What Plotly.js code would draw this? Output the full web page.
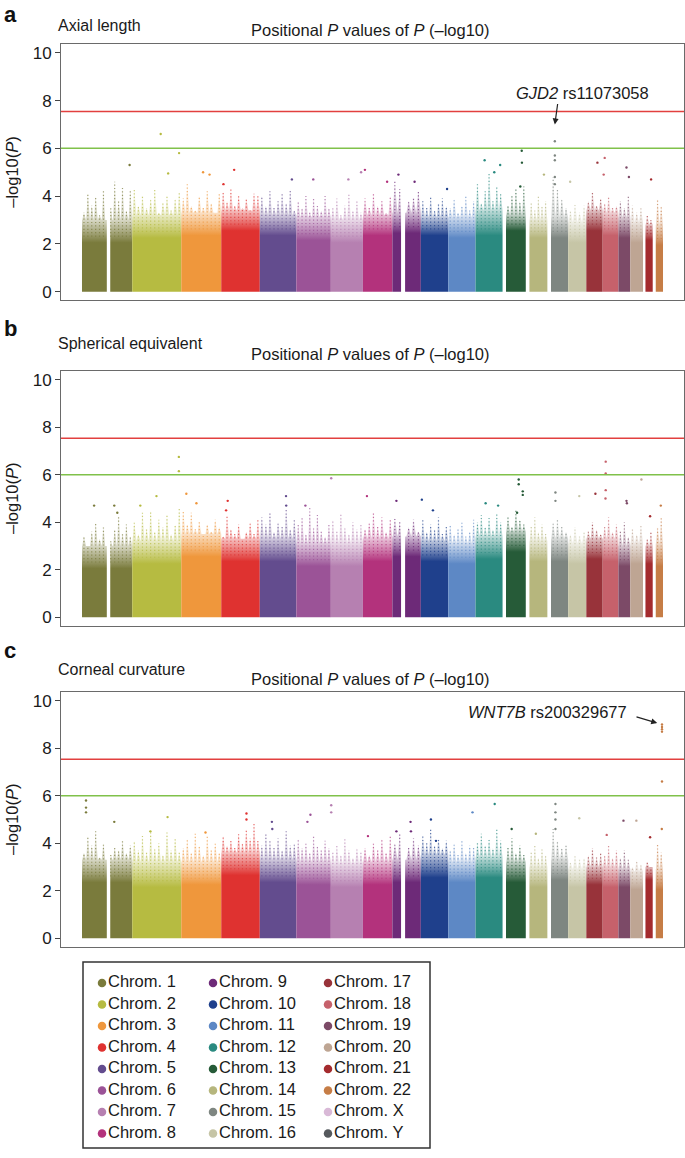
<!DOCTYPE html>
<html>
<head>
<meta charset="utf-8">
<script src="https://cdn.plot.ly/plotly-3.0.1.min.js"></script>
<style>
  html, body { margin: 0; padding: 0; background: #fff; }
  #plot { width: 685px; height: 1158px; }
</style>
</head>
<body>
<div id="plot"></div>
<script>
// chromosome layout (Mb)
const chromNames = ['1','2','3','4','5','6','7','8','9','10','11','12','13','14','15','16','17','18','19','20','21','22'];
const chromLenMb = [249,243,198,191,181,171,159,146,141,136,135,134,115,107,103,90,81,78,59,63,48,51];
const chromGapMb = [[123,140],null,null,null,null,null,null,null,[43,63],null,null,null,[0,17],[0,18],[0,18],null,null,null,null,null,[0,12],[0,15]];
const chromColors = ['#7a7b3c','#b6bb41','#ef973c','#df3230','#634c8e','#9b5397','#b680b1','#b3327c','#6d2a78','#1f408c','#5d88c5','#2a8a80','#265b38','#b6b67d','#7e8681','#c6c5a6','#98333a','#c6616b','#7c4a67','#bea593','#a42b2e','#c67d46'];

const legendNames = ['Chrom. 1','Chrom. 2','Chrom. 3','Chrom. 4','Chrom. 5','Chrom. 6','Chrom. 7','Chrom. 8',
  'Chrom. 9','Chrom. 10','Chrom. 11','Chrom. 12','Chrom. 13','Chrom. 14','Chrom. 15','Chrom. 16',
  'Chrom. 17','Chrom. 18','Chrom. 19','Chrom. 20','Chrom. 21','Chrom. 22','Chrom. X','Chrom. Y'];
const legendColors = chromColors.concat(['#d9b9d7','#55595d']);

const genomeWideLine = 7.54;
const suggestiveLine = 6;

// a: axial length
const axialSolid = [2.3,2.5,2.6,2.8,2.6,2.4,2.3,2.6,2.7,2.6,2.5,2.6,2.8,2.5,2.5,2.3,2.8,2.6,2.5,2.3,2.4,2.2];
const axialHaze = [3.0,3.2,3.3,3.4,3.2,3.1,3.0,3.2,3.3,3.1,3.1,3.4,3.2,3.0,3.1,2.9,3.4,3.3,3.1,2.9,2.8,2.8];
const axialSpikes = [
  [3.3,4.1,3.6,4.0,3.2,4.2,3.5,4.6,3.8,4.4,3.4,4.3],
  [4.3,3.6,4.0,3.5,3.9,4.3,3.3,3.7,4.0,3.4,3.9,4.2],
  [3.9,4.5,3.6,3.4,4.0,3.5,4.2,3.7,3.3,4.1],
  [4.2,3.8,4.3,3.6,4.0,3.5,3.9,3.4,4.1,4.0],
  [4.0,3.6,4.2,3.5,3.8,4.1,3.7,4.3,3.4],
  [3.8,3.5,4.0,3.3,3.9,3.6,3.4,4.0,3.5],
  [3.5,3.9,3.2,3.6,4.1,3.4,3.8,3.3],
  [3.9,3.5,4.1,3.6,3.8,3.3,4.0],
  [4.6,4.3,3.8,3.9,4.2],
  [3.8,3.5,4.0,3.4,3.7,3.9,3.6],
  [3.5,3.9,3.3,3.6,4.0,3.4,3.8],
  [4.5,3.7,4.2,5.0,3.8,4.4,4.1],
  [3.6,4.0,4.3,3.8,4.4],
  [3.7,3.4,4.0,3.6,3.8],
  [4.8,4.3,3.9,3.5],
  [3.4,3.7,3.3,3.6],
  [3.8,4.2,3.6,3.9],
  [3.7,4.0,3.5,3.6],
  [3.8,3.5,4.0],
  [3.6,3.3,3.5],
  [3.2,3.0],
  [3.9,3.6]
];
// [chromosome, position Mb, -log10 P]
const axialHits = [
  [1,236,5.3],[2,141,6.6],[2,178,4.95],[2,232,5.8],[3,108,5.0],[3,140,4.9],[4,11,4.5],[4,64,5.1],
  [5,159,4.7],[6,84,4.7],[7,87,4.7],[7,150,5.0],[8,10,5.1],[8,120,4.6],[9,30,4.9],[9,110,4.6],
  [10,130,4.3],[12,45,5.5],[12,93,5.0],[12,122,5.3],[13,95,5.9],[13,96,5.4],[13,88,4.4],[14,90,4.9],
  [15,37,6.3],[15,37,5.7],[15,37,5.5],[15,37,4.8],[15,37,4.5],[16,10,4.6],[17,55,5.4],
  [18,10,5.6],[18,5,4.9],[19,40,5.2],[19,52,4.8],[21,40,4.7]
];

// b: spherical equivalent
const spherSolid = [2.3,2.5,2.8,2.6,2.6,2.4,2.4,2.6,2.8,2.6,2.5,2.7,3.0,2.6,2.6,2.5,2.7,2.6,2.4,2.5,2.5,2.4];
const spherHaze = [3.0,3.2,3.5,3.3,3.3,3.1,3.1,3.3,3.4,3.2,3.1,3.4,3.6,3.2,3.3,3.1,3.3,3.3,3.0,3.1,3.0,3.1];
const spherSpikes = [
  [3.4,3.0,3.6,4.0,3.3,3.8,3.2,3.7,4.3,3.5,3.9,3.4],
  [4.0,3.5,4.4,3.7,4.5,3.6,4.1,3.8,4.3,3.5,3.9,4.6],
  [4.5,3.9,4.4,3.7,4.0,3.5,3.9,3.6,4.1,3.8],
  [3.4,4.3,3.7,3.5,3.9,3.3,3.6,4.0,3.5,4.1],
  [4.2,3.9,4.4,3.6,4.0,3.8,4.6,3.7,4.1],
  [3.9,4.2,3.5,4.6,3.8,4.3,3.6,3.4,3.9],
  [4.1,3.6,4.4,3.8,3.5,4.0,3.7,3.9],
  [3.7,4.0,4.4,3.8,4.2,3.6,4.1],
  [4.2,4.0,3.8,4.1,3.6],
  [4.1,3.6,3.9,3.7,4.2,3.5,3.8],
  [3.9,3.5,3.7,4.0,3.4,3.6,4.1],
  [4.0,4.3,3.8,4.2,3.7,4.4,4.0],
  [4.2,3.8,4.5,4.1,3.9],
  [3.8,4.2,3.6,3.9,3.5],
  [4.0,4.1,3.8,3.6],
  [3.5,3.8,3.4,3.6],
  [3.6,4.0,3.7,3.5],
  [3.8,4.2,3.6,3.9],
  [3.6,4.0,3.4],
  [3.7,3.5,3.9],
  [3.3,3.6],
  [3.8,4.2]
];
const spherHits = [
  [1,60,4.7],[1,160,4.7],[1,175,4.4],[2,40,4.7],[2,120,5.1],[2,231,6.75],[2,231,6.15],[3,25,5.2],[3,75,4.8],
  [4,32,4.9],[4,24,4.5],[5,130,5.1],[5,131,4.7],[6,45,4.7],[7,2,5.85],[8,20,5.1],[9,20,4.9],[10,5,4.95],
  [10,60,4.5],[12,50,4.8],[12,112,4.7],[13,80,5.8],[13,80,5.6],[13,100,5.3],[13,100,5.15],[13,72,4.4],
  [15,40,5.25],[15,40,4.9],[16,55,5.1],[17,45,5.2],[18,15,6.55],[18,15,6.05],[18,15,5.35],[18,14,5.0],
  [19,40,4.9],[19,42,4.8],[20,55,5.8],[21,35,4.25],[22,40,4.7]
];

// c: corneal curvature
const cornSolid = [2.6,2.4,2.5,2.9,2.6,2.5,2.4,2.5,2.6,2.8,2.6,2.8,2.6,2.4,2.7,2.4,2.5,2.4,2.4,2.3,2.7,2.3];
const cornHaze = [3.3,3.2,3.2,3.6,3.3,3.2,3.1,3.2,3.3,3.5,3.2,3.4,3.2,3.0,3.3,2.9,3.0,3.0,2.9,2.8,3.0,2.9];
const cornSpikes = [
  [3.6,4.3,3.9,4.5,3.4,4.0,3.5,3.8,3.7,4.1,3.6,3.9],
  [4.1,3.7,4.3,3.6,4.5,3.8,4.0,3.5,4.5,3.7,4.2,3.6],
  [3.8,4.2,3.6,4.4,3.9,3.5,4.3,3.7,4.0,3.6],
  [4.3,3.9,4.1,3.8,4.4,4.0,4.6,4.2,4.9,4.1],
  [3.9,4.4,4.1,3.8,4.2,3.7,4.5,3.9,4.0],
  [4.2,3.8,4.0,3.6,4.3,3.9,3.7,4.1,3.8],
  [3.6,3.9,3.5,4.2,3.7,3.4,3.8,3.6],
  [3.8,3.5,4.0,3.7,4.2,3.6,4.3],
  [4.0,4.4,3.8,4.2,3.9],
  [4.3,4.0,4.6,3.9,4.2,3.8,4.1],
  [3.7,4.0,3.5,4.1,3.6,3.9,3.8],
  [4.0,4.4,3.9,4.2,3.8,4.6,4.1],
  [3.8,4.2,3.6,3.9,3.5],
  [3.6,3.9,3.4,3.8,3.5],
  [4.6,4.1,3.8,3.9],
  [3.2,3.5,3.3,3.4],
  [3.5,3.8,3.4,3.6],
  [3.5,3.9,3.4,3.7],
  [3.4,3.7,3.3],
  [3.0,3.3,3.1],
  [3.2,3.0],
  [4.0,3.6]
];
const cornHits = [
  [1,20,5.8],[1,20,5.5],[1,20,5.3],[1,160,4.9],[2,175,5.1],[2,90,4.5],[3,120,4.45],[4,125,5.25],[4,125,5.0],
  [5,60,4.9],[5,62,4.6],[6,70,5.2],[6,55,4.9],[7,2,5.6],[7,2,5.3],[8,25,4.3],[9,20,4.5],[9,90,4.9],[9,92,4.5],
  [10,50,5.0],[10,75,4.1],[11,120,5.3],[12,95,5.65],[13,45,4.6],[14,50,4.4],[15,40,5.65],[15,40,5.3],
  [15,40,5.0],[15,40,4.6],[16,55,5.05],[18,20,4.35],[19,25,4.95],[20,30,4.95],[21,35,4.25],
  [22,46,9.0],[22,46,8.9],[22,46,8.8],[22,46,8.7],[22,46,6.6],[22,45,4.6]
];

const W = 685, H = 1158;
const px = x => x / W;
const py = y => 1 - y / H;
const FONT = 'Liberation Sans, Arial, Helvetica, sans-serif';

const offsets = [];
chromLenMb.reduce((acc, len, i) => { offsets[i] = acc; return acc + len; }, 0);
const genomeLen = chromLenMb.reduce((a, b) => a + b, 0);

function rgba(hex, a) {
  const n = parseInt(hex.slice(1), 16);
  return 'rgba(' + (n >> 16) + ',' + ((n >> 8) & 255) + ',' + (n & 255) + ',' + a + ')';
}

function segments(i) {
  const len = chromLenMb[i], gap = chromGapMb[i];
  if (!gap) return [[0, len]];
  if (gap[0] === 0) return [[gap[1], len]];
  return [[0, gap[0]], [gap[1], len]];
}

// spread n columns evenly over the covered part of a chromosome, return [segIndex, pos]
function spikePositions(i, n) {
  const segs = segments(i);
  const covered = segs.reduce((a, s) => a + s[1] - s[0], 0);
  const out = [];
  for (let k = 0; k < n; k++) {
    let d = (k + 0.5) / n * covered;
    for (let j = 0; j < segs.length; j++) {
      const l = segs[j][1] - segs[j][0];
      if (d <= l) { out.push([j, segs[j][0] + d]); break; }
      d -= l;
    }
  }
  return { pos: out, step: covered / n };
}

const traces = [];
function addPanel(n, solid, haze, spikes, hits) {
  const xa = n === 1 ? 'x' : 'x' + n, ya = n === 1 ? 'y' : 'y' + n;
  chromNames.forEach((c, i) => {
    const segs = segments(i);
    const col = chromColors[i];
    const sp = spikePositions(i, spikes[i].length);
    const top = Math.max(...spikes[i]);
    const dw = sp.step * 0.45;
    segs.forEach((s, j) => {
      const xs = [offsets[i] + s[0]], ys = [haze[i]];
      sp.pos.forEach(([sj, p], k) => {
        if (sj !== j) return;
        const l = Math.max(s[0], p - dw), r = Math.min(s[1], p + dw);
        xs.push(offsets[i] + l, offsets[i] + p, offsets[i] + r);
        ys.push(haze[i], spikes[i][k], haze[i]);
      });
      xs.push(offsets[i] + s[1]); ys.push(haze[i]);
      traces.push({
        type: 'scatter', mode: 'lines', x: xs, y: ys, xaxis: xa, yaxis: ya,
        fill: 'tozeroy', line: { width: 0 }, fillcolor: col,
        fillgradient: {
          type: 'vertical', start: 0, stop: top,
          colorscale: [[0, col], [(solid[i] - 0.25) / top, col], [haze[i] / top, rgba(col, 0.3)], [1, rgba(col, 0.06)]]
        },
        showlegend: false, hoverinfo: 'skip'
      });
    });
    const lx = [], ly = [];
    sp.pos.forEach(([sj, p], k) => { lx.push(offsets[i] + p, offsets[i] + p, null); ly.push(solid[i], spikes[i][k], null); });
    traces.push({
      type: 'scatter', mode: 'lines', x: lx, y: ly, xaxis: xa, yaxis: ya,
      line: { color: col, width: 1.2, dash: '1.2px,2.2px' }, opacity: 0.7,
      showlegend: false, hoverinfo: 'skip'
    });
  });
  traces.push({
    type: 'scatter', mode: 'markers', xaxis: xa, yaxis: ya,
    x: hits.map(h => offsets[h[0] - 1] + h[1]),
    y: hits.map(h => h[2]),
    marker: { size: 2.4, color: hits.map(h => chromColors[h[0] - 1]) },
    showlegend: false, hoverinfo: 'skip'
  });
}
addPanel(1, axialSolid, axialHaze, axialSpikes, axialHits);
addPanel(2, spherSolid, spherHaze, spherSpikes, spherHits);
addPanel(3, cornSolid, cornHaze, cornSpikes, cornHits);

// legend drawn in a pixel-space overlay axis
const legCols = [102, 213, 328], legTop = 983, legRow = 21.5;
traces.push({
  type: 'scatter', mode: 'markers', xaxis: 'x4', yaxis: 'y4',
  x: legendNames.map((_, i) => legCols[Math.floor(i / 8)]),
  y: legendNames.map((_, i) => legTop + (i % 8) * legRow),
  marker: { size: 8.5, color: legendColors },
  showlegend: false, hoverinfo: 'skip'
});
traces.push({
  type: 'scatter', mode: 'text', xaxis: 'x4', yaxis: 'y4',
  x: legendNames.map((_, i) => legCols[Math.floor(i / 8)] + 6),
  y: legendNames.map((_, i) => legTop + (i % 8) * legRow),
  text: legendNames, textposition: 'middle right',
  textfont: { family: FONT, size: 16.5, color: '#1a1a1a' },
  showlegend: false, hoverinfo: 'skip'
});

const frameX = [px(61), px(684)];
const panelY = [[43.5, 300], [370.5, 625.5], [691.5, 946.5]];
const xRange = [-104, genomeLen + 104];
const yRange = [-0.35, 10.39];

const layout = {
  width: W, height: H,
  margin: { l: 0, r: 0, t: 0, b: 0 },
  paper_bgcolor: '#fff', plot_bgcolor: 'rgba(0,0,0,0)',
  showlegend: false,
  font: { family: FONT, color: '#1a1a1a' },
  xaxis4: { domain: [0, 1], range: [0, W], visible: false, fixedrange: true, anchor: 'y4' },
  yaxis4: { domain: [0, 1], range: [H, 0], visible: false, fixedrange: true, anchor: 'x4' },
  shapes: [],
  annotations: []
};

const panelLetters = ['a', 'b', 'c'];
const panelNames = ['Axial length', 'Spherical equivalent', 'Corneal curvature'];
const letterY = [0, 314, 636];
const nameY = [25.5, 343.5, 669.5];
const titleY = [30, 354, 679];

[1, 2, 3].forEach((n, k) => {
  const sfx = n === 1 ? '' : String(n);
  layout['xaxis' + sfx] = {
    domain: frameX, range: xRange, anchor: 'y' + sfx,
    showticklabels: false, ticks: '', showgrid: false, zeroline: false,
    showline: true, mirror: true, linecolor: '#6a6a6a', linewidth: 1, fixedrange: true
  };
  layout['yaxis' + sfx] = {
    domain: [py(panelY[k][1]), py(panelY[k][0])], range: yRange, anchor: 'x' + sfx,
    tickvals: [0, 2, 4, 6, 8, 10], ticks: 'outside', ticklen: 5, tickcolor: '#444', tickwidth: 1,
    tickfont: { family: FONT, size: 17, color: '#1a1a1a' },
    showgrid: false, zeroline: false, showline: true, mirror: true,
    linecolor: '#6a6a6a', linewidth: 1, fixedrange: true
  };
  [[genomeWideLine, '#e2403f'], [suggestiveLine, '#80c14a']].forEach(([v, c]) => {
    layout.shapes.push({
      type: 'line', xref: 'x' + sfx + ' domain', yref: 'y' + sfx,
      x0: 0, x1: 1, y0: v, y1: v, line: { color: c, width: 1.5 }
    });
  });
  layout.annotations.push(
    { xref: 'paper', yref: 'paper', x: px(2), y: py(letterY[k]), xanchor: 'left', yanchor: 'top',
      text: '<b>' + panelLetters[k] + '</b>', showarrow: false, font: { size: 22, color: '#111' } },
    { xref: 'paper', yref: 'paper', x: px(56), y: py(nameY[k]), xanchor: 'left', yanchor: 'middle',
      text: panelNames[k], showarrow: false, font: { size: 16, color: '#1a1a1a' } },
    { xref: 'paper', yref: 'paper', x: px(370.5), y: py(titleY[k]), xanchor: 'center', yanchor: 'middle',
      text: 'Positional <i>P</i> values of <i>P</i> (\u2013log10)', showarrow: false,
      font: { size: 16.5, color: '#1a1a1a' } },
    { xref: 'paper', yref: 'paper', x: px(12), y: py((panelY[k][0] + panelY[k][1]) / 2),
      xanchor: 'center', yanchor: 'middle', textangle: -90,
      text: '\u2013log10(<i>P</i>)', showarrow: false, font: { size: 16.5, color: '#1a1a1a' } }
  );
});

// gene labels
const gjd2 = axialHits[24];
layout.annotations.push(
  { xref: 'paper', yref: 'paper', x: px(582), y: py(93), xanchor: 'center', yanchor: 'middle',
    text: '<i>GJD2</i> rs11073058', showarrow: false, font: { size: 16.5, color: '#1a1a1a' } },
  { xref: 'x', yref: 'y', x: offsets[gjd2[0] - 1] + gjd2[1], y: 7.0, text: '', showarrow: true,
    ax: 3, ay: -22, arrowhead: 2, arrowsize: 1, arrowwidth: 1.2, arrowcolor: '#222' }
);
const wnt7b = cornHits[34];
layout.annotations.push(
  { xref: 'paper', yref: 'paper', x: px(547), y: py(711.5), xanchor: 'center', yanchor: 'middle',
    text: '<i>WNT7B</i> rs200329677', showarrow: false, font: { size: 16.5, color: '#1a1a1a' } },
  { xref: 'x3', yref: 'y3', x: offsets[wnt7b[0] - 1] + wnt7b[1], y: wnt7b[2], text: '', showarrow: true,
    ax: -27, ay: -8, standoff: 5, arrowhead: 2, arrowsize: 1, arrowwidth: 1.2, arrowcolor: '#222' }
);

// legend frame
layout.shapes.push({
  type: 'rect', xref: 'paper', yref: 'paper',
  x0: px(83), x1: px(430), y0: py(1148), y1: py(962),
  line: { color: '#333', width: 1.5 }, fillcolor: 'rgba(0,0,0,0)'
});

Plotly.newPlot('plot', traces, layout, { staticPlot: true });
</script>
</body>
</html>
